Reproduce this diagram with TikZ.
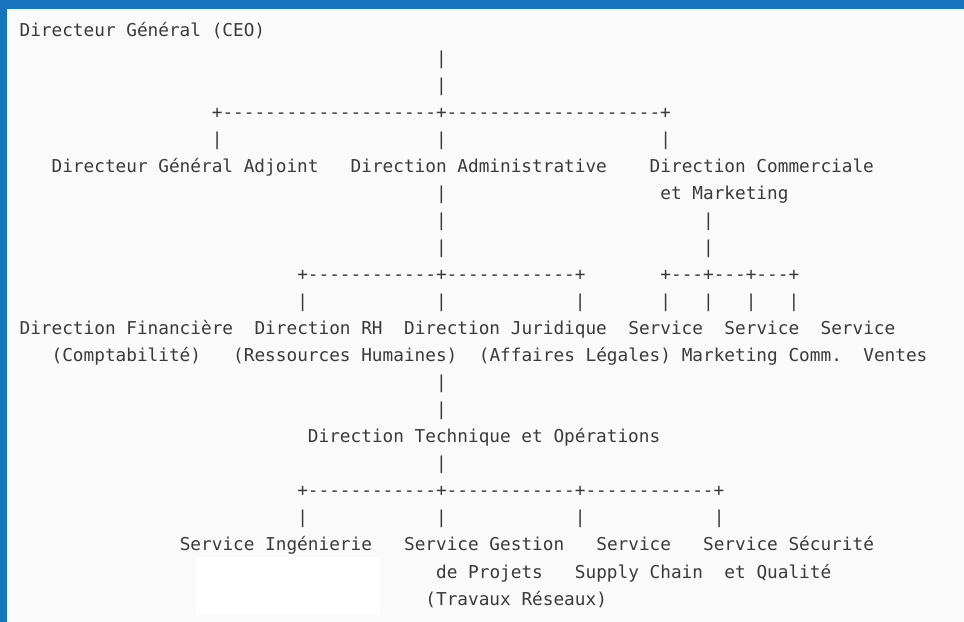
\documentclass[tikz,border=0pt]{standalone}
\usepackage{fontspec}
\setmonofont{DejaVu Sans Mono}
\definecolor{framecol}{RGB}{23,116,191}
\definecolor{inkcol}{RGB}{58,58,58}
\definecolor{papercol}{RGB}{250,250,250}
\newcommand\colx[1]{19.6+10.68*#1}
\newcommand\rowy[1]{37+27.05*#1}
\tikzset{
  asc/.style={anchor=base west, inner sep=0pt, outer sep=0pt, text=inkcol,
    font=\ttfamily\fontsize{17.8pt}{20pt}\selectfont},
}
\begin{document}
\begin{tikzpicture}[x=1bp,y=-1bp]
\useasboundingbox (0,0) rectangle (964,622);
\fill[papercol] (0,0) rectangle (964,622);
\fill[white] (196,557) rectangle (380,615);
\fill[framecol] (0,0) rectangle (964,9);
\fill[framecol] (0,0) rectangle (7,622);
% level 0
\node[asc] (ceo) at ({\colx{0}},{\rowy{0}}) {Directeur Général (CEO)};
\node[asc] (p1) at ({\colx{39}},{\rowy{1}}) {|};
\node[asc] (p2) at ({\colx{39}},{\rowy{2}}) {|};
\node[asc] (h1) at ({\colx{18}},{\rowy{3}}) {+--------------------+--------------------+};
\node[asc] (p4a) at ({\colx{18}},{\rowy{4}}) {|};
\node[asc] (p4b) at ({\colx{39}},{\rowy{4}}) {|};
\node[asc] (p4c) at ({\colx{60}},{\rowy{4}}) {|};
% level 1
\node[asc] (dga) at ({\colx{3}},{\rowy{5}}) {Directeur Général Adjoint};
\node[asc] (dad) at ({\colx{31}},{\rowy{5}}) {Direction Administrative};
\node[asc] (dcm) at ({\colx{59}},{\rowy{5}}) {Direction Commerciale};
\node[asc] (p6) at ({\colx{39}},{\rowy{6}}) {|};
\node[asc] (dcm2) at ({\colx{60}},{\rowy{6}}) {et Marketing};
\node[asc] (p7a) at ({\colx{39}},{\rowy{7}}) {|};
\node[asc] (p7b) at ({\colx{64}},{\rowy{7}}) {|};
\node[asc] (p8a) at ({\colx{39}},{\rowy{8}}) {|};
\node[asc] (p8b) at ({\colx{64}},{\rowy{8}}) {|};
\node[asc] (h2) at ({\colx{26}},{\rowy{9}}) {+------------+------------+};
\node[asc] (h3) at ({\colx{60}},{\rowy{9}}) {+---+---+---+};
\node[asc] (p10a) at ({\colx{26}},{\rowy{10}}) {|};
\node[asc] (p10b) at ({\colx{39}},{\rowy{10}}) {|};
\node[asc] (p10c) at ({\colx{52}},{\rowy{10}}) {|};
\node[asc] (p10d) at ({\colx{60}},{\rowy{10}}) {|};
\node[asc] (p10e) at ({\colx{64}},{\rowy{10}}) {|};
\node[asc] (p10f) at ({\colx{68}},{\rowy{10}}) {|};
\node[asc] (p10g) at ({\colx{72}},{\rowy{10}}) {|};
% level 2
\node[asc] (dfin) at ({\colx{0}},{\rowy{11}}) {Direction Financière};
\node[asc] (drh) at ({\colx{22}},{\rowy{11}}) {Direction RH};
\node[asc] (djur) at ({\colx{36}},{\rowy{11}}) {Direction Juridique};
\node[asc] (smk) at ({\colx{57}},{\rowy{11}}) {Service};
\node[asc] (scom) at ({\colx{66}},{\rowy{11}}) {Service};
\node[asc] (sven) at ({\colx{75}},{\rowy{11}}) {Service};
\node[asc] (dfin2) at ({\colx{3}},{\rowy{12}}) {(Comptabilité)};
\node[asc] (drh2) at ({\colx{20}},{\rowy{12}}) {(Ressources Humaines)};
\node[asc] (djur2) at ({\colx{43}},{\rowy{12}}) {(Affaires Légales)};
\node[asc] (smk2) at ({\colx{62}},{\rowy{12}}) {Marketing};
\node[asc] (scom2) at ({\colx{72}},{\rowy{12}}) {Comm.};
\node[asc] (sven2) at ({\colx{79}},{\rowy{12}}) {Ventes};
\node[asc] (p13) at ({\colx{39}},{\rowy{13}}) {|};
\node[asc] (p14) at ({\colx{39}},{\rowy{14}}) {|};
% level 3
\node[asc] (dto) at ({\colx{27}},{\rowy{15}}) {Direction Technique et Opérations};
\node[asc] (p16) at ({\colx{39}},{\rowy{16}}) {|};
\node[asc] (h4) at ({\colx{26}},{\rowy{17}}) {+------------+------------+------------+};
\node[asc] (p18a) at ({\colx{26}},{\rowy{18}}) {|};
\node[asc] (p18b) at ({\colx{39}},{\rowy{18}}) {|};
\node[asc] (p18c) at ({\colx{52}},{\rowy{18}}) {|};
\node[asc] (p18d) at ({\colx{65}},{\rowy{18}}) {|};
\node[asc] (sing) at ({\colx{15}},{\rowy{19}}) {Service Ingénierie};
\node[asc] (sgp) at ({\colx{36}},{\rowy{19}}) {Service Gestion};
\node[asc] (ssc) at ({\colx{54}},{\rowy{19}}) {Service};
\node[asc] (ssq) at ({\colx{64}},{\rowy{19}}) {Service Sécurité};
\node[asc] (sgp2) at ({\colx{39}},{\rowy{20}}) {de Projets};
\node[asc] (ssc2) at ({\colx{52}},{\rowy{20}}) {Supply Chain};
\node[asc] (ssq2) at ({\colx{66}},{\rowy{20}}) {et Qualité};
\node[asc] (sgp3) at ({\colx{38}},{\rowy{21}}) {(Travaux Réseaux)};
\end{tikzpicture}
\end{document}
